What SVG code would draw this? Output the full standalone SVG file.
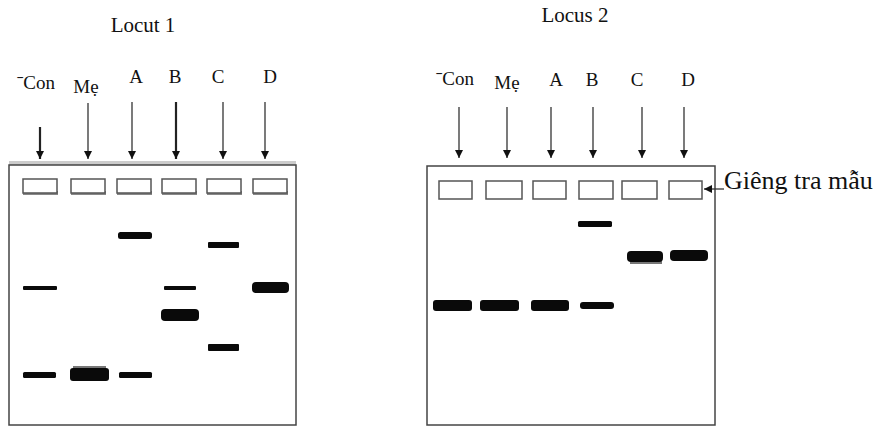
<svg xmlns="http://www.w3.org/2000/svg" width="880" height="427" viewBox="0 0 880 427">
<style>
text{font-family:"Liberation Serif","Times New Roman",serif;fill:#111}
.t{font-size:21px}
.lab{font-size:19px;text-anchor:middle}
.gel{fill:#fff;stroke:#444;stroke-width:1.5}
.well{fill:#fff;stroke:#555;stroke-width:1.5}
.sh{fill:#888}
.band{fill:#0a0a0a}
.a1{stroke:#333;stroke-width:1.3}
.a2{stroke:#222;stroke-width:2.2}
</style>
<defs>
<marker id="ah" viewBox="0 0 10 10" refX="10" refY="5" markerWidth="8" markerHeight="8" markerUnits="userSpaceOnUse" orient="auto">
<path d="M0,0 L10,5 L0,10 z" fill="#111"/>
</marker>
</defs>
<rect width="880" height="427" fill="#fff"/>
<g id="title1"><text class="t" x="143" y="32" text-anchor="middle">Locut 1</text></g>
<g id="title2"><text class="t" x="575" y="22" text-anchor="middle">Locus 2</text></g>
<g id="labels1">
<text class="lab" x="36" y="89">ˉCon</text>
<text class="lab" x="86" y="93">Mẹ</text>
<text class="lab" x="136" y="83">A</text>
<text class="lab" x="175" y="83">B</text>
<text class="lab" x="218" y="83">C</text>
<text class="lab" x="270" y="83">D</text>
</g>
<g id="labels2">
<text class="lab" x="455" y="85">ˉCon</text>
<text class="lab" x="507" y="89">Mẹ</text>
<text class="lab" x="556" y="86">A</text>
<text class="lab" x="592" y="86">B</text>
<text class="lab" x="637" y="86">C</text>
<text class="lab" x="688" y="86">D</text>
</g>
<g id="gel1">
<rect x="9" y="161" width="287" height="5" fill="#ccc"/>
<rect class="gel" x="9" y="165" width="287" height="260"/>
<g id="wells1">
<rect class="sh" x="23" y="191" width="35" height="4"/><rect class="well" x="23" y="179" width="34" height="14"/>
<rect class="sh" x="71" y="191" width="35" height="4"/><rect class="well" x="71" y="179" width="34" height="14"/>
<rect class="sh" x="117" y="191" width="35" height="4"/><rect class="well" x="117" y="179" width="34" height="14"/>
<rect class="sh" x="162" y="191" width="35" height="4"/><rect class="well" x="162" y="179" width="34" height="14"/>
<rect class="sh" x="207" y="191" width="35" height="4"/><rect class="well" x="207" y="179" width="34" height="14"/>
<rect class="sh" x="253" y="191" width="35" height="4"/><rect class="well" x="253" y="179" width="34" height="14"/>
</g>
<g id="bands1">
<rect class="band" x="23" y="286" width="34" height="4" rx="1"/>
<rect class="band" x="23" y="372" width="33" height="6" rx="1.5"/>
<rect fill="#777" x="73" y="366" width="33" height="4"/>
<rect class="band" x="70" y="368" width="39" height="13" rx="3"/>
<rect class="band" x="118" y="232" width="34" height="7" rx="2.5"/>
<rect class="band" x="119" y="372" width="33" height="6" rx="1.5"/>
<rect class="band" x="164" y="286" width="32" height="4" rx="1"/>
<rect class="band" x="161" y="309" width="38" height="12" rx="4"/>
<rect class="band" x="208" y="242" width="31" height="6" rx="1"/>
<rect class="band" x="208" y="344" width="31" height="7" rx="1"/>
<rect class="band" x="252" y="282" width="37" height="11" rx="4"/>
</g>
</g>
<g id="gel2">
<rect class="gel" x="427" y="166" width="288" height="259" stroke="#666"/>
<g id="wells2">
<rect class="well" x="439" y="181" width="33" height="18"/>
<rect class="well" x="486" y="181" width="36" height="18"/>
<rect class="well" x="533" y="181" width="33" height="18"/>
<rect class="well" x="579" y="181" width="34" height="18"/>
<rect class="well" x="622" y="181" width="35" height="18"/>
<rect class="well" x="669" y="181" width="33" height="18"/>
</g>
<g id="bands2">
<rect class="band" x="433" y="300" width="39" height="11" rx="3"/>
<rect class="band" x="480" y="300" width="39" height="11" rx="3"/>
<rect class="band" x="531" y="300" width="38" height="11" rx="3"/>
<rect class="band" x="580" y="302" width="34" height="7" rx="3"/>
<rect class="band" x="578" y="221" width="34" height="6" rx="1.5"/>
<rect fill="#777" x="630" y="259" width="32" height="5"/>
<rect class="band" x="627" y="251" width="36" height="11" rx="4"/>
<rect class="band" x="670" y="250" width="38" height="11" rx="4"/>
</g>
</g>
<g id="note"><text x="724" y="189" style="font-size:26px">Giêng tra mẫu</text></g>
<g id="connectors" fill="none">
<line class="a2" x1="40" y1="127" x2="40" y2="159" marker-end="url(#ah)"/>
<line class="a1" x1="88" y1="103" x2="88" y2="159" marker-end="url(#ah)" stroke="#777"/>
<line class="a1" x1="132" y1="102" x2="132" y2="159" marker-end="url(#ah)"/>
<line class="a2" x1="176" y1="102" x2="176" y2="159" marker-end="url(#ah)"/>
<line class="a1" x1="223" y1="102" x2="223" y2="159" marker-end="url(#ah)"/>
<line class="a1" x1="265" y1="102" x2="265" y2="159" marker-end="url(#ah)" stroke="#777"/>
<line class="a1" x1="459" y1="107" x2="459" y2="158" marker-end="url(#ah)"/>
<line class="a1" x1="507" y1="107" x2="507" y2="158" marker-end="url(#ah)"/>
<line class="a1" x1="551" y1="107" x2="551" y2="158" marker-end="url(#ah)"/>
<line class="a1" x1="593" y1="107" x2="593" y2="158" marker-end="url(#ah)"/>
<line class="a1" x1="642" y1="107" x2="642" y2="158" marker-end="url(#ah)"/>
<line class="a1" x1="684" y1="107" x2="684" y2="158" marker-end="url(#ah)"/>
<line class="a1" x1="724" y1="189" x2="704" y2="189" marker-end="url(#ah)"/>
</g>
</svg>
